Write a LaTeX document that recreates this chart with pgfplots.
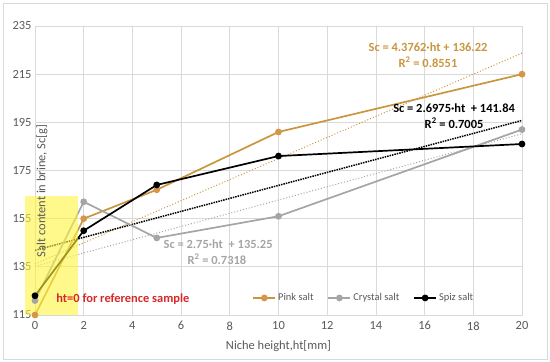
\documentclass[border=0pt]{standalone}
\usepackage{fontspec}
\setmainfont{Carlito}
\usepackage{pgfplots}
\pgfplotsset{compat=1.18}
\definecolor{pinkc}{RGB}{201,150,62}
\definecolor{pinkm}{RGB}{214,150,70}
\definecolor{crys}{RGB}{165,165,165}
\definecolor{gridc}{RGB}{217,217,217}
\definecolor{txtc}{RGB}{89,89,89}
\definecolor{redt}{RGB}{214,40,40}
\begin{document}
\begin{tikzpicture}
\path (0,0) rectangle (550bp,362bp);
\draw[gridc,line width=0.8bp] (3bp,3bp) rectangle (547bp,359bp);
\begin{axis}[
  at={(35bp,47bp)}, anchor=south west,
  scale only axis, width=487bp, height=289bp,
  xmin=0, xmax=20, ymin=115, ymax=235,
  xtick={0,2,...,20}, ytick={115,135,...,235},
  grid=major, major grid style={gridc, line width=0.8bp},
  axis line style={gridc, line width=0.8bp},
  major tick length=0,
  tick label style={font=\fontsize{12.5}{14}\selectfont, text=txtc},
  xticklabel style={yshift=-3bp},
  /pgf/number format/assume math mode=true,
  xlabel={Niche height,ht[mm]},
  xlabel style={font=\fontsize{12.5}{14}\selectfont, text=txtc, yshift=-4bp},
  clip=false,
  legend columns=3,
  legend style={at={(0.44,0.059)}, anchor=west, draw=none, fill=none,
    font=\fontsize{10.5}{12}\selectfont, text=txtc,
    /tikz/every even column/.append style={column sep=12bp}},
  legend image code/.code={\draw[#1] (0bp,0bp) -- (22bp,0bp); \draw[#1,mark repeat=2,mark phase=2] plot coordinates {(0bp,0bp) (11bp,0bp) (22bp,0bp)};},
]
% trendlines
\addplot[pinkc, line width=1bp, dotted, forget plot] coordinates {(0,136.22) (20,223.74)};
\addplot[crys, line width=1bp, dotted, forget plot] coordinates {(0,135.25) (20,190.25)};
\addplot[black, line width=1.5bp, densely dotted, forget plot] coordinates {(0,141.84) (20,195.79)};
% data
\addplot[pinkc, line width=1.7bp, mark=*, mark size=2.5bp, mark options={fill=pinkm, draw=pinkm}] coordinates {(0,115) (2,155) (5,167) (10,191) (20,215)};
\addlegendentry{Pink salt}
\addplot[crys, line width=1.7bp, mark=*, mark size=2.5bp, mark options={fill=crys}] coordinates {(0,121) (2,162) (5,147) (10,156) (20,192)};
\addlegendentry{Crystal salt}
\addplot[black, line width=1.7bp, mark=*, mark size=2.5bp] coordinates {(0,123) (2,150) (5,169) (10,181) (20,186)};
\addlegendentry{Spiz salt}
% highlight box
\fill[yellow!75!white, opacity=0.6] (axis cs:-0.41,115) rectangle (axis cs:1.77,164.4);
% texts
\node[rotate=90, text=txtc, font=\fontsize{12.5}{14}\selectfont] at (axis cs:0.29,166.5) {Salt content in brine, Sc[g]};
\node[text=redt, font=\bfseries\fontsize{12.5}{14}\selectfont] at (axis cs:3.61,121.6) {ht=0 for reference sample};
\node[text=pinkc, font=\bfseries\fontsize{12.5}{14}\selectfont] at (axis cs:16.14,226.2) {Sc = 4.3762·ht + 136.22};
\node[text=pinkc, font=\bfseries\fontsize{12.5}{14}\selectfont] at (axis cs:16.14,220.0) {R\textsuperscript{2} = 0.8551};
\node[text=black, font=\bfseries\fontsize{12.5}{14}\selectfont] at (axis cs:17.21,200.9) {Sc = 2.6975·ht\ \ + 141.84};
\node[text=black, font=\bfseries\fontsize{12.5}{14}\selectfont] at (axis cs:17.21,194.7) {R\textsuperscript{2} = 0.7005};
\node[text=crys, font=\bfseries\fontsize{12.5}{14}\selectfont] at (axis cs:7.52,144.5) {Sc = 2.75·ht\ \ + 135.25};
\node[text=crys, font=\bfseries\fontsize{12.5}{14}\selectfont] at (axis cs:7.47,138.2) {R\textsuperscript{2} = 0.7318};
\end{axis}
\end{tikzpicture}
\end{document}
